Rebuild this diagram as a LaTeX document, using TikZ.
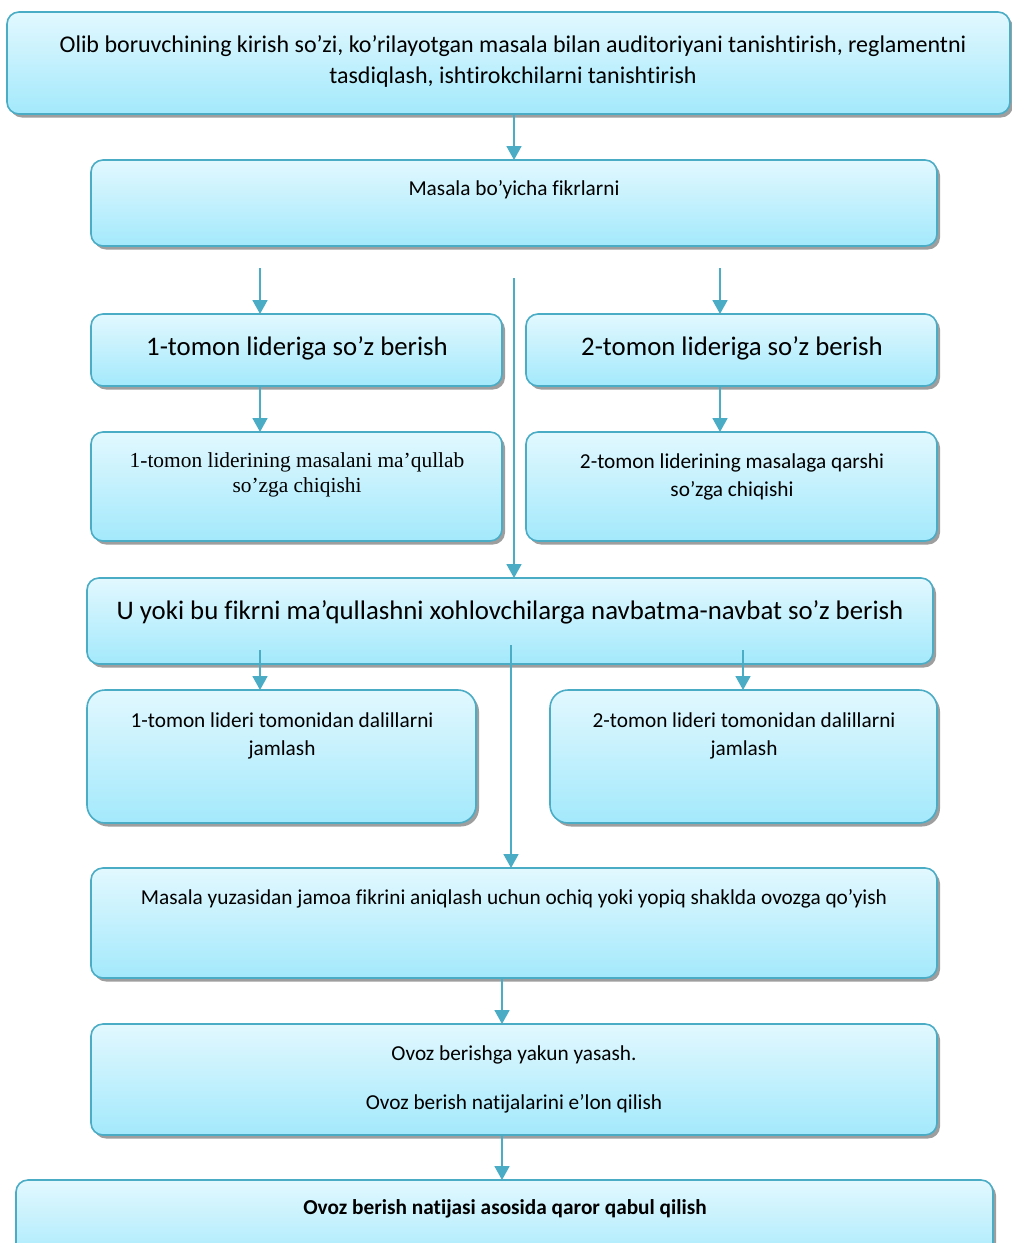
\documentclass[tikz,border=0pt]{standalone}
\usepackage{fontspec}
\setmainfont{Carlito}[Ligatures=NoCommon]
\newfontfamily\timesf{Liberation Serif}
\usetikzlibrary{arrows.meta,shadows,calc}
\definecolor{edge}{HTML}{4BACC6}
\definecolor{topc}{HTML}{E2F8FE}
\definecolor{botc}{HTML}{A3E9FC}
\tikzset{
  x=1pt,y=-1pt,
  box/.style={draw=edge, line width=1.6pt, rounded corners=12pt, top color=topc, bottom color=botc,
    drop shadow={shadow xshift=3pt, shadow yshift=-3.5pt, fill=black!38, opacity=1},
    inner sep=0pt, outer sep=0pt},
  bigbox/.style={box, rounded corners=18pt},
  arr/.style={draw=edge, line width=1.8pt, -{Triangle[width=15pt,length=14pt]}},
  txt/.style={inner sep=0pt, align=center, text=black},
}
\begin{document}
\begin{tikzpicture}
\useasboundingbox (0,0) rectangle (1012,1243);
\clip (0,0) rectangle (1012,1243);
% boxes
\node[box, minimum width=1003pt, minimum height=102pt] (b1) at (508.5,63) {};
\node[box, minimum width=846pt, minimum height=86pt] (b2) at (514,203) {};
\node[box, minimum width=411pt, minimum height=72pt] (l1) at (296.5,350) {};
\node[box, minimum width=411pt, minimum height=72pt] (r1) at (731.5,350) {};
\node[box, minimum width=411pt, minimum height=109pt] (l2) at (296.5,486.5) {};
\node[box, minimum width=411pt, minimum height=109pt] (r2) at (731.5,486.5) {};
\node[box, minimum width=846pt, minimum height=86pt] (u) at (510,621) {};
\node[bigbox, minimum width=389pt, minimum height=133pt] (l3) at (281.5,756.5) {};
\node[bigbox, minimum width=387pt, minimum height=133pt] (r3) at (743.5,756.5) {};
\node[box, minimum width=846pt, minimum height=110pt] (v) at (514,923) {};
\node[box, minimum width=846pt, minimum height=111pt] (w) at (514,1079.5) {};
\node[box, minimum width=977pt, minimum height=90pt] (xb) at (504.5,1225) {};
% texts
\node[txt, font=\fontsize{24}{31}\selectfont] (t1) at (513,61.5) {Olib boruvchining kirish so’zi, ko’rilayotgan masala bilan auditoriyani tanishtirish, reglamentni\\tasdiqlash, ishtirokchilarni tanishtirish};
\node[txt, font=\fontsize{21.3}{24}\selectfont] (t2) at (514,190) {Masala bo’yicha fikrlarni};
\node[txt, font=\fontsize{26.8}{30}\selectfont] (tl1) at (297,348) {1-tomon lideriga so’z berish};
\node[txt, font=\fontsize{26.8}{30}\selectfont] (tr1) at (732,348) {2-tomon lideriga so’z berish};
\node[txt, font=\timesf\fontsize{21.4}{25}\selectfont] (tl2) at (297,475) {1-tomon liderining masalani ma’qullab\\so’zga chiqishi};
\node[txt, font=\fontsize{21.3}{28}\selectfont] (tr2) at (732,477) {2-tomon liderining masalaga qarshi\\so’zga chiqishi};
\node[txt, font=\fontsize{26.8}{30}\selectfont] (tu) at (510,612) {U yoki bu fikrni ma’qullashni xohlovchilarga navbatma-navbat so’z berish};
\node[txt, font=\fontsize{21.3}{28}\selectfont] (tl3) at (282,736) {1-tomon lideri tomonidan dalillarni\\jamlash};
\node[txt, font=\fontsize{21.3}{28}\selectfont] (tr3) at (744,736) {2-tomon lideri tomonidan dalillarni\\jamlash};
\node[txt, font=\fontsize{21.3}{24}\selectfont] (tv) at (514,899) {Masala yuzasidan jamoa fikrini aniqlash uchun ochiq yoki yopiq shaklda ovozga qo’yish};
\node[txt, font=\fontsize{21.3}{24}\selectfont] (tw1) at (514,1055) {Ovoz berishga yakun yasash.};
\node[txt, font=\fontsize{21.3}{24}\selectfont] (tw2) at (514,1104) {Ovoz berish natijalarini e’lon qilish};
\node[txt, font=\bfseries\fontsize{21.3}{24}\selectfont] (tx) at (505,1209) {Ovoz berish natijasi asosida qaror qabul qilish};
% free coordinates
\coordinate (sl1) at (260,268);
\coordinate (sr1) at (720,268);
\coordinate (sm1) at (514,278);
\coordinate (sl3) at (260,650);
\coordinate (sr3) at (743,650);
\coordinate (sm2) at (511,645);
\coordinate (xc) at (502,0);
% connectors
\draw[arr] (b1.south -| b2.north) -- (b2.north);
\draw[arr] (sl1) -- (l1.north -| sl1);
\draw[arr] (sr1) -- (r1.north -| sr1);
\draw[arr] (sm1) -- (u.north -| sm1);
\draw[arr] (l1.south -| sl1) -- (l2.north -| sl1);
\draw[arr] (r1.south -| sr1) -- (r2.north -| sr1);
\draw[arr] (sl3) -- (l3.north -| sl3);
\draw[arr] (sr3) -- (r3.north -| sr3);
\draw[arr] (sm2) -- (v.north -| sm2);
\draw[arr] (v.south -| xc) -- (w.north -| xc);
\draw[arr] (w.south -| xc) -- (xb.north -| xc);
\end{tikzpicture}
\end{document}
